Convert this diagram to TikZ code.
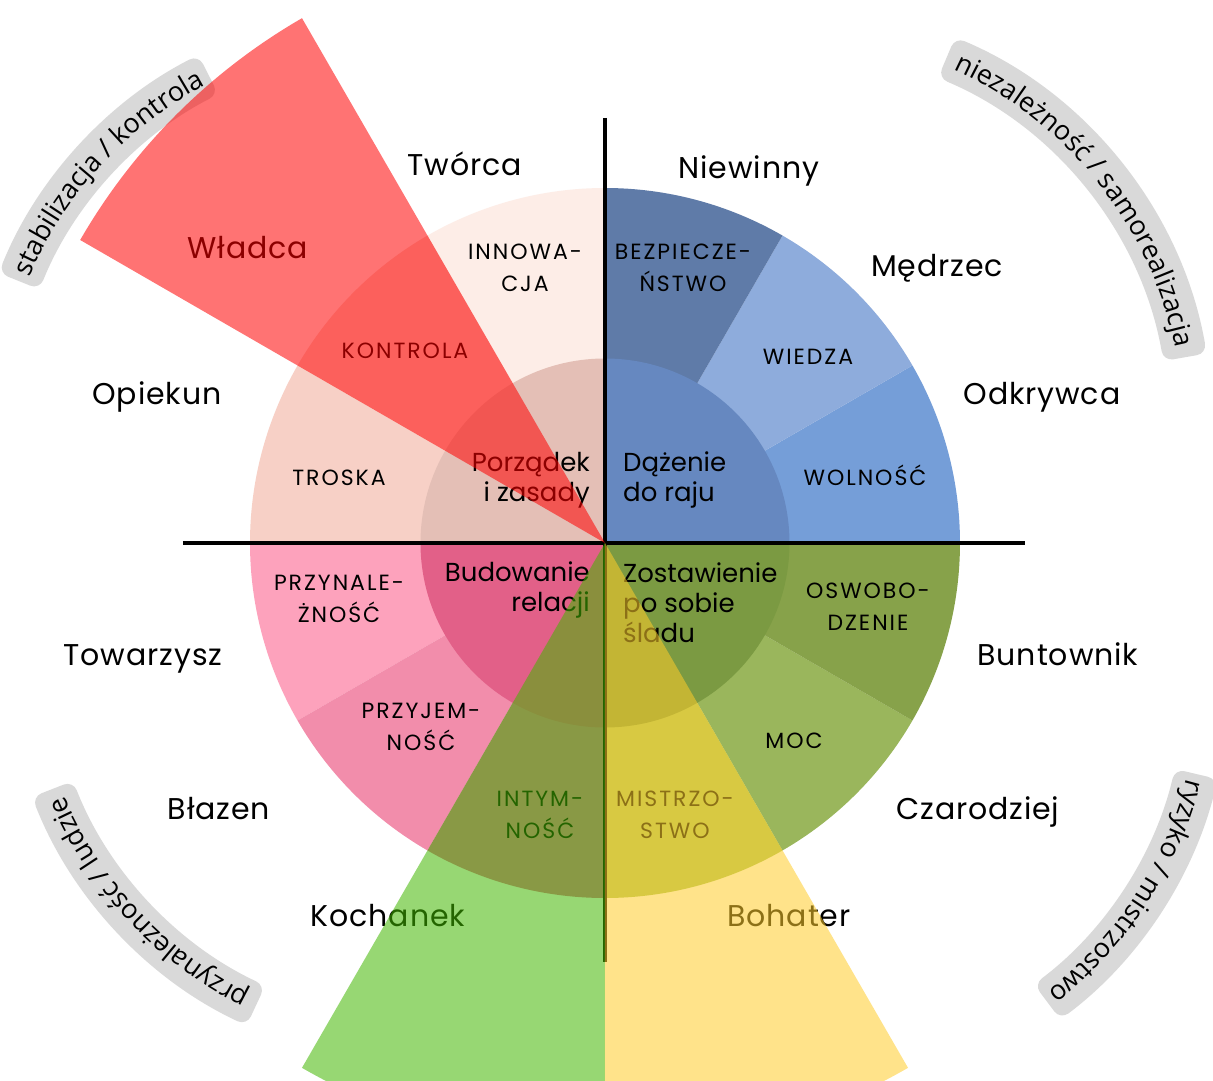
\documentclass[tikz,border=0pt]{standalone}
\usepackage{fontspec}
\setmainfont{Poppins}
\newfontfamily\badgefont{Open Sans}
\newfontfamily\archfont[LetterSpace=3]{Poppins}
\newfontfamily\ringfont[LetterSpace=9]{Poppins}
\usetikzlibrary{decorations.text}
\definecolor{cInnowacja}{HTML}{FDEDE7}
\definecolor{cKontrola}{HTML}{F9D6CC}
\definecolor{cTroska}{HTML}{F7D0C6}
\definecolor{cPrzynal}{HTML}{FDA2BC}
\definecolor{cPrzyjem}{HTML}{F28DAB}
\definecolor{cIntym}{HTML}{E0769A}
\definecolor{cMistrz}{HTML}{A9C760}
\definecolor{cMoc}{HTML}{9AB65C}
\definecolor{cOswob}{HTML}{87A24A}
\definecolor{cWolnosc}{HTML}{759ED8}
\definecolor{cWiedza}{HTML}{8EACDC}
\definecolor{cBezp}{HTML}{5F7BA8}
\definecolor{cInTR}{HTML}{6688C0}
\definecolor{cInTL}{HTML}{E4BFB6}
\definecolor{cInBL}{HTML}{E26088}
\definecolor{cInBR}{HTML}{7B9A42}
\definecolor{cBadge}{HTML}{D9D9D9}
\definecolor{ovRed}{RGB}{255,0,0}
\definecolor{ovGreen}{RGB}{66,183,0}
\definecolor{ovYellow}{RGB}{255,204,42}
\newcommand\badgetext{\badgefont\fontsize{27}{27}\selectfont}
\newcommand\wsector[4]{\fill[#4] (0,0) -- (#1:#3) arc[start angle=#1, end angle=#2, radius=#3] -- cycle;}
\newcommand\badgeband[4]{%
  \begin{scope}[shift={#1}]
    \fill[cBadge, rounded corners=10pt] (#2:378) arc[start angle=#2, end angle=#3, radius=378]
      -- (#3:422) arc[start angle=#3, end angle=#2, radius=422] -- cycle;
    \path[decorate, decoration={text along path, text align=center, text={|\badgetext|#4}}]
      (#2+8:392) arc[start angle=#2+8, end angle=#3-8, radius=392];
  \end{scope}}
\tikzset{
  arch/.style={font=\archfont\fontsize{30}{30}\selectfont, anchor=mid, inner sep=0pt},
  ring/.style={font=\ringfont\fontsize{22}{32}\selectfont, align=center, inner sep=0pt},
  ringone/.style={font=\ringfont\fontsize{22}{32}\selectfont, anchor=mid, inner sep=0pt},
  core/.style={font=\fontsize{26}{30}\selectfont, inner sep=0pt},
  axis/.style={line width=4pt, black},
  overlay/.style={fill opacity=0.55}
}
\begin{document}
\begin{tikzpicture}[x=1pt,y=1pt]
\useasboundingbox (-605,-537) rectangle (608,543);
\clip (-605,-537) rectangle (608,543);
\fill[white] (-605,-537) rectangle (608,543);
% outer ring
\wsector{90}{120}{355}{cInnowacja}
\wsector{120}{150}{355}{cKontrola}
\wsector{150}{180}{355}{cTroska}
\wsector{180}{210}{355}{cPrzynal}
\wsector{210}{240}{355}{cPrzyjem}
\wsector{240}{270}{355}{cIntym}
\wsector{270}{300}{355}{cMistrz}
\wsector{300}{330}{355}{cMoc}
\wsector{330}{360}{355}{cOswob}
\wsector{0}{30}{355}{cWolnosc}
\wsector{30}{60}{355}{cWiedza}
\wsector{60}{90}{355}{cBezp}
% inner circle
\wsector{0}{90}{184.5}{cInTR}
\wsector{90}{180}{184.5}{cInTL}
\wsector{180}{270}{184.5}{cInBL}
\wsector{270}{360}{184.5}{cInBR}
% axes
\coordinate (hl) at (-422,0);
\coordinate (hr) at (420,0);
\coordinate (vt) at (0,425);
\coordinate (vb) at (0,-419);
\draw[axis] (hl) -- (hr);
\draw[axis] (vt) -- (vb);
% archetype labels
\node[arch] (tworca) at (-140,370.5) {Twórca};
\node[arch] (niewinny) at (144,367.5) {Niewinny};
\node[arch] (medrzec) at (332,269.5) {Mędrzec};
\node[arch] (odkrywca) at (437,141.5) {Odkrywca};
\node[arch] (buntownik) at (453,-119.5) {Buntownik};
\node[arch] (czarodziej) at (373,-273.5) {Czarodziej};
\node[arch] (bohater) at (184,-380.5) {Bohater};
\node[arch] (kochanek) at (-217,-380.5) {Kochanek};
\node[arch] (blazen) at (-386,-273.5) {Błazen};
\node[arch] (towarzysz) at (-462,-119.5) {Towarzysz};
\node[arch] (opiekun) at (-448,141.5) {Opiekun};
\node[arch] (wladca) at (-357,287.5) {Władca};
% ring labels
\node[ring] (innowacja) at (-80,275) {INNOWA-\\CJA};
\node[ring] (bezp) at (78,275) {BEZPIECZE-\\ŃSTWO};
\node[ringone] (wiedza) at (203,181.3) {WIEDZA};
\node[ringone] (wolnosc) at (260,60.3) {WOLNOŚĆ};
\node[ring] (oswob) at (263,-64) {OSWOBO-\\DZENIE};
\node[ringone] (moc) at (189,-202.7) {MOC};
\node[ring] (mistrz) at (70,-272) {MISTRZO-\\STWO};
\node[ring] (intym) at (-65,-272) {INTYM-\\NOŚĆ};
\node[ring] (przyjem) at (-184,-184) {PRZYJEM-\\NOŚĆ};
\node[ring] (przynal) at (-266,-56) {PRZYNALE-\\ŻNOŚĆ};
\node[ringone] (troska) at (-266,60.3) {TROSKA};
\node[ringone] (kontrola) at (-200,187.3) {KONTROLA};
% core labels
\node[core, align=right, anchor=east] (porzadek) at (-15,63) {Porządek\\i zasady};
\node[core, align=left, anchor=west] (dazenie) at (18,63) {Dążenie\\do raju};
\node[core, align=right, anchor=east] (budowanie) at (-15,-47) {Budowanie\\relacji};
\node[core, align=left, anchor=west] (zostawienie) at (18,-60) {Zostawienie\\po sobie\\śladu};
% badges
\badgeband{(-215,112)}{158}{117}{stabilizacja / kontrola}
\badgeband{(186,117)}{67.1}{9.9}{niezależność / samorealizacja}
\badgeband{(202,-139)}{-13.3}{-53.1}{ryzyko / mistrzostwo}
\badgeband{(-180,-100)}{245}{201.4}{przynależność / ludzie}
% highlighted archetypes
\fill[ovRed, overlay] (0,0) -- (120:606) arc[start angle=120, end angle=150, radius=606] -- cycle;
\fill[ovGreen, overlay] (0,0) -- (240:606) arc[start angle=240, end angle=270, radius=606] -- cycle;
\fill[ovYellow, overlay] (0,0) -- (270:606) arc[start angle=270, end angle=300, radius=606] -- cycle;
\end{tikzpicture}
\end{document}
